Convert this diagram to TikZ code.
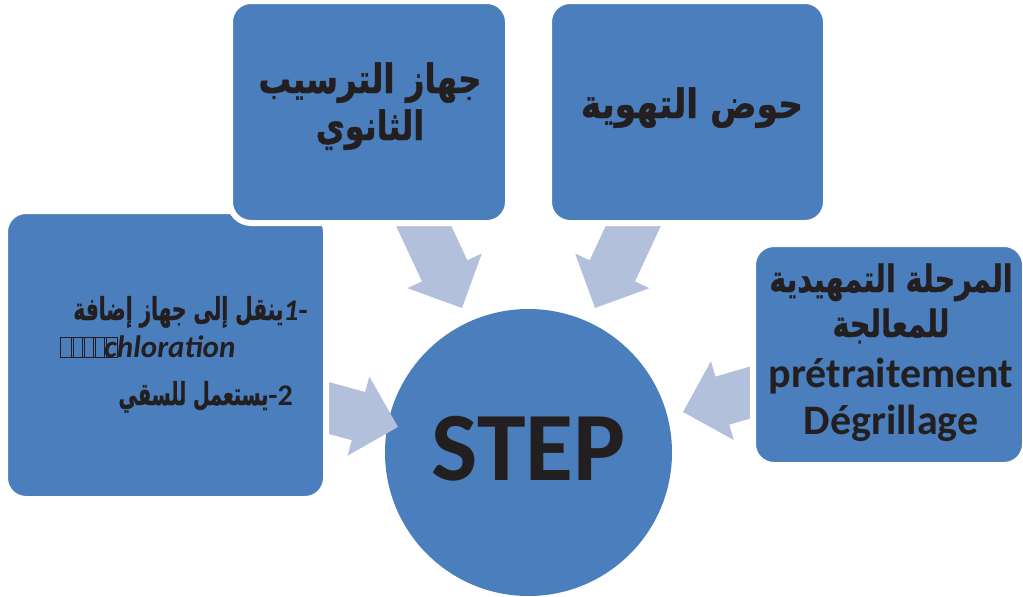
\documentclass[tikz,border=0pt]{standalone}
\usepackage{fontspec}
\setmainfont{Carlito}
\newfontfamily\arabicfont[Script=Arabic, BoldFeatures={FakeBold=1.2}]{DejaVu Sans}
\TeXXeTstate=1
\usetikzlibrary{calc}
\definecolor{boxblue}{RGB}{74,126,188}
\definecolor{arrowblue}{RGB}{179,192,220}
\definecolor{ink}{RGB}{35,31,32}
\newcommand\blockarrow[2]{%
  \path ($(#1)!41pt!(#2)$) coordinate (h) ($(#1)!170pt!(#2)$) coordinate (e);
  \fill[arrowblue] (#1) -- ($(h)!41pt!90:(#1)$) -- ($(h)!25pt!90:(#1)$)
    -- ($(e)!25pt!90:(h)$) -- ($(e)!25pt!-90:(h)$) -- ($(h)!25pt!-90:(#1)$)
    -- ($(h)!41pt!-90:(#1)$) -- cycle;}
\begin{document}
\begin{tikzpicture}[x=1pt,y=-1pt,
  box/.style={draw=white, line width=6pt, fill=boxblue, rounded corners=21pt, inner sep=0pt, outer sep=0pt},
  artxt/.style={text=ink, inner sep=0pt, font=\arabicfont\bfseries\fontsize{#1}{#1}\selectfont},
  latxt/.style={text=ink, inner sep=0pt, font=\bfseries\fontsize{#1}{#1}\selectfont}]
\useasboundingbox (0,0) rectangle (1023,597);
% centre circle
\node[circle, fill=boxblue, minimum size=287pt, inner sep=0pt] (step) at (528.5,452.5) {};
\node[latxt=98, anchor=base] (steplabel) at (528.5,480) {STEP};
% arrows
\coordinate (tTL) at (462,308); \coordinate (bTL) at (392,158);
\coordinate (tTR) at (595,308); \coordinate (bTR) at (665,158);
\coordinate (tL) at (398,427);  \coordinate (bL) at (238,383);
\coordinate (tR) at (683,412);  \coordinate (bR) at (835,368);
\blockarrow{tTL}{bTL}
\blockarrow{tTR}{bTR}
\blockarrow{tL}{bL}
\blockarrow{tR}{bR}
% boxes
\node[box, minimum width=321pt, minimum height=288pt] (left) at (165.5,355) {};
\node[box, minimum width=278pt, minimum height=222pt] (topleft) at (369,112) {};
\node[box, minimum width=277pt, minimum height=222pt] (topright) at (687.5,112) {};
\node[box, minimum width=272pt, minimum height=221pt] (right) at (889,354.5) {};
% top-left text
\node[artxt=36, anchor=base] (tl1) at (370,93) {\scalebox{0.9}[1.12]{\beginR جهاز الترسيب\endR}};
\node[artxt=36, anchor=base] (tl2) at (370,140) {\scalebox{0.88}[1.12]{\beginR الثانوي\endR}};
% top-right text
\node[artxt=36, anchor=base] (tr1) at (692,118) {\scalebox{0.96}[1.12]{\beginR حوض التهوية\endR}};
% right text
\node[artxt=34, anchor=base] (r1) at (891,292) {\scalebox{0.84}[1.1]{\beginR المرحلة التمهيدية\endR}};
\node[artxt=34, anchor=base] (r2) at (891,337) {\scalebox{0.84}[1.1]{\beginR للمعالجة\endR}};
\node[latxt=42, anchor=base] (r3) at (891,387) {prétraitement};
\node[latxt=42, anchor=base] (r4) at (891,434) {Dégrillage};
% left text
\node[artxt=30, anchor=base east] (l1) at (308,320) {\scalebox{0.67}[1.05]{\beginR ينقل إلى جهاز إضافة\endR}{\normalfont\bfseries\itshape 1}{\normalfont\bfseries -}};
\foreach \bx in {60,71,82,93,104} {\draw[ink, line width=0.6pt] (\bx,337) rectangle ++(13,20);}
\node[anchor=base west, text=ink, inner sep=0pt, font=\bfseries\itshape\fontsize{31}{31}\selectfont] (l2) at (104,357) {chloration};
\node[artxt=30, anchor=base east] (l3) at (293,405) {\scalebox{0.64}[1.05]{\beginR يستعمل للسقي\endR}{\normalfont\bfseries -2}};
\end{tikzpicture}
\end{document}
